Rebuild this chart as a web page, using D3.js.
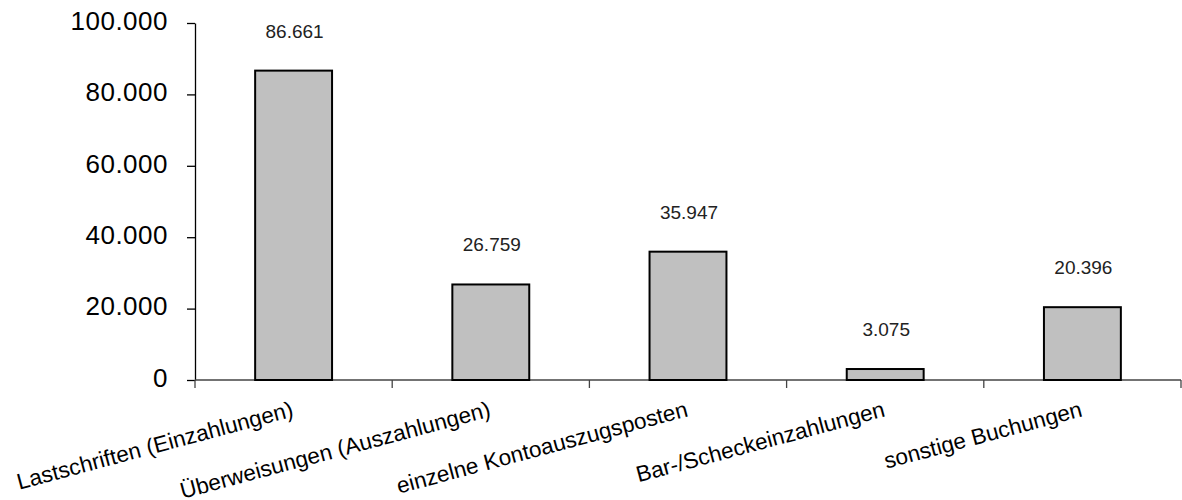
<!DOCTYPE html>
<html>
<head>
<meta charset="utf-8">
<script src="https://cdn.jsdelivr.net/npm/d3@7"></script>
<style>
  html, body { margin: 0; padding: 0; background: #fff; }
  svg { display: block; font-family: "Liberation Sans", Arial, sans-serif; }
</style>
</head>
<body>
<svg id="chart" width="1182" height="500"></svg>
<script>
// Buchungsposten nach Art
const categories = [
  "Lastschriften (Einzahlungen)",
  "Überweisungen (Auszahlungen)",
  "einzelne Kontoauszugsposten",
  "Bar-/Scheckeinzahlungen",
  "sonstige Buchungen"
];
const values = [86661, 26759, 35947, 3075, 20396];
const yTicks = [0, 20000, 40000, 60000, 80000, 100000];

const fmt = v => d3.format(",")(v).replace(/,/g, ".");

const svg = d3.select("#chart");
const plotLeft = 195, plotRight = 1181, plotTop = 23, plotBottom = 380;

const x = d3.scaleBand().domain(categories).range([plotLeft, plotRight]).paddingInner(0.61).paddingOuter(0.305);
const xEdge = d3.scaleLinear().domain([0, categories.length]).range([plotLeft, plotRight]);
const y = d3.scaleLinear().domain([0, 100000]).range([plotBottom, plotTop]);

// y axis
const yAxis = svg.append("g")
  .attr("transform", `translate(${plotLeft},0)`)
  .call(d3.axisLeft(y).tickValues(yTicks).tickFormat(fmt).tickSize(8).tickPadding(19).tickSizeOuter(0));
yAxis.attr("font-family", null).attr("font-size", null);
yAxis.select(".domain").attr("stroke", "#000").attr("stroke-width", 1.3);
yAxis.selectAll(".tick line").attr("stroke", "#000").attr("stroke-width", 1.3);
yAxis.selectAll(".tick text")
  .attr("fill", "#000")
  .attr("dy", "0.24em")
  .style("font-size", "26px")
  .style("letter-spacing", "0.5px");

// x axis baseline and category separators
const xg = svg.append("g");
xg.append("line")
  .attr("x1", plotLeft).attr("x2", plotRight)
  .attr("y1", y(0)).attr("y2", y(0))
  .attr("stroke", "#444").attr("stroke-width", 1.3);
xg.selectAll("line.sep")
  .data(d3.range(categories.length + 1))
  .join("line")
  .attr("class", "sep")
  .attr("x1", d => xEdge(d)).attr("x2", d => xEdge(d))
  .attr("y1", y(0)).attr("y2", y(0) + 8)
  .attr("stroke", "#444").attr("stroke-width", 1.3);

// bars
svg.append("g").selectAll("rect")
  .data(values)
  .join("rect")
  .attr("x", (d, i) => x(categories[i]))
  .attr("width", x.bandwidth())
  .attr("y", d => y(d))
  .attr("height", d => y(0) - y(d))
  .attr("fill", "#c0c0c0")
  .attr("stroke", "#000")
  .attr("stroke-width", 2);

// value labels
svg.append("g").selectAll("text")
  .data(values)
  .join("text")
  .attr("x", (d, i) => x(categories[i]) + x.bandwidth() / 2 + 1)
  .attr("y", d => y(d) - 33)
  .attr("text-anchor", "middle")
  .attr("fill", "#222")
  .style("font-size", "19px")
  .text(d => fmt(d));

// rotated category labels
svg.append("g").selectAll("text")
  .data(categories)
  .join("text")
  .attr("transform", d => `translate(${x(d) + x.bandwidth() / 2 + 1},${y(0) + 36}) rotate(-15)`)
  .attr("text-anchor", "end")
  .attr("fill", "#000")
  .style("font-size", "22.5px")
  .text(d => d);
</script>
</body>
</html>
